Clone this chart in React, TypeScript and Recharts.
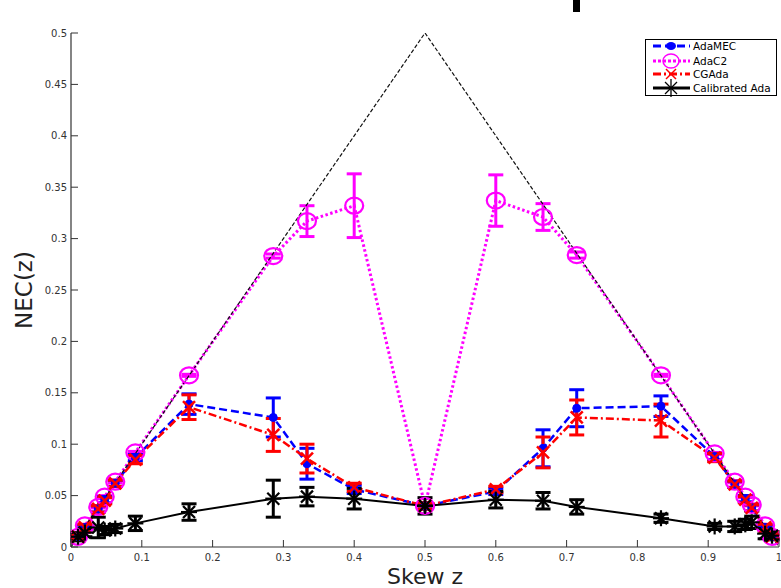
import React from 'react';
import { ComposedChart, Line, XAxis, YAxis, ErrorBar } from 'recharts';

const skew = [0.0099, 0.0196, 0.0385, 0.0476, 0.0625, 0.0909, 0.1667, 0.2857, 0.3333, 0.4, 0.5, 0.6, 0.6667, 0.7143, 0.8333, 0.9091, 0.9375, 0.9524, 0.9615, 0.9804, 0.9901];

const adaMEC = [0.010, 0.019, 0.037, 0.046, 0.062, 0.087, 0.139, 0.126, 0.081, 0.056, 0.040, 0.054, 0.096, 0.135, 0.137, 0.088, 0.061, 0.047, 0.038, 0.019, 0.010];
const adaMECErr = [0.002, 0.002, 0.003, 0.003, 0.003, 0.003, 0.010, 0.019, 0.015, 0.004, 0.003, 0.003, 0.018, 0.018, 0.010, 0.003, 0.003, 0.003, 0.003, 0.002, 0.002];

const adaC2 = [0.0099, 0.021, 0.039, 0.049, 0.0635, 0.092, 0.167, 0.283, 0.317, 0.332, 0.040, 0.337, 0.321, 0.284, 0.167, 0.091, 0.0635, 0.049, 0.041, 0.021, 0.0099];
const adaC2Err = [0.001, 0.001, 0.001, 0.001, 0.001, 0.001, 0.001, 0.002, 0.015, 0.031, 0.003, 0.025, 0.013, 0.003, 0.001, 0.001, 0.001, 0.001, 0.001, 0.001, 0.001];

const cgAda = [0.010, 0.019, 0.037, 0.045, 0.062, 0.085, 0.136, 0.109, 0.086, 0.058, 0.040, 0.056, 0.092, 0.126, 0.123, 0.087, 0.061, 0.046, 0.038, 0.019, 0.010];
const cgAdaErr = [0.002, 0.003, 0.003, 0.003, 0.003, 0.004, 0.012, 0.016, 0.014, 0.004, 0.003, 0.003, 0.015, 0.017, 0.016, 0.004, 0.003, 0.003, 0.003, 0.003, 0.002];

const calAda = [0.010, 0.014, 0.019, 0.016, 0.018, 0.023, 0.034, 0.047, 0.049, 0.047, 0.040, 0.046, 0.045, 0.039, 0.028, 0.020, 0.020, 0.022, 0.024, 0.013, 0.011];
const calAdaErr = [0.004, 0.004, 0.010, 0.004, 0.004, 0.007, 0.008, 0.018, 0.009, 0.010, 0.008, 0.008, 0.008, 0.007, 0.004, 0.003, 0.005, 0.005, 0.006, 0.005, 0.004];

const trivialX = [0, 0.5, 1];
const trivialY = [0, 0.5, 0];

const xTicks = [0, 0.1, 0.2, 0.3, 0.4, 0.5, 0.6, 0.7, 0.8, 0.9, 1];
const yTicks = [0, 0.05, 0.1, 0.15, 0.2, 0.25, 0.3, 0.35, 0.4, 0.45, 0.5];

const seriesNames = ['AdaMEC', 'AdaC2', 'CGAda', 'Calibrated Ada'];

const data = skew.map((z, i) => ({
  z,
  mec: adaMEC[i], mecErr: adaMECErr[i],
  c2: adaC2[i], c2Err: adaC2Err[i],
  cg: cgAda[i], cgErr: cgAdaErr[i],
  cal: calAda[i], calErr: calAdaErr[i],
}));
const trivialData = trivialX.map((z, i) => ({ z, t: trivialY[i] }));

const FONT = '"DejaVu Sans", Arial, sans-serif';
const AX = '#333';
const fmt = (v: number) => String(Number(v.toFixed(2)));

const BottomTick = (p: any) => (
  <g>
    <line x1={p.x} y1={p.y} x2={p.x} y2={p.y - 7} stroke={AX} strokeWidth={1} />
    <text x={p.x} y={p.y + 14} textAnchor="middle" fontSize={10} fill="#333" fontFamily={FONT}>{fmt(p.payload.value)}</text>
  </g>
);
const TopTick = (p: any) => (
  <line x1={p.x} y1={p.y} x2={p.x} y2={p.y + 7} stroke={AX} strokeWidth={1} />
);
const LeftTick = (p: any) => (
  <g>
    <line x1={p.x} y1={p.y} x2={p.x + 7} y2={p.y} stroke={AX} strokeWidth={1} />
    <text x={p.x - 4} y={p.y + 3.5} textAnchor="end" fontSize={10} fill="#333" fontFamily={FONT}>{fmt(p.payload.value)}</text>
  </g>
);
const RightTick = (p: any) => (
  <line x1={p.x} y1={p.y} x2={p.x - 7} y2={p.y} stroke={AX} strokeWidth={1} />
);

const BlueDot = (p: any) => p.cx == null ? <g key={p.index} /> : (
  <circle key={p.index} cx={p.cx} cy={p.cy} r={4} fill="#0000ff" stroke="#0000ff" strokeWidth={1} />
);
const MagentaDot = (p: any) => p.cx == null ? <g key={p.index} /> : (
  <ellipse key={p.index} cx={p.cx} cy={p.cy} rx={9} ry={8} fill="none" stroke="#ff00ff" strokeWidth={2.2} />
);
const RedX = (p: any) => p.cx == null ? <g key={p.index} /> : (
  <g key={p.index} stroke="#ff0000" strokeWidth={2.5}>
    <line x1={p.cx - 6} y1={p.cy - 6} x2={p.cx + 6} y2={p.cy + 6} />
    <line x1={p.cx - 6} y1={p.cy + 6} x2={p.cx + 6} y2={p.cy - 6} />
  </g>
);
const BlackStar = (p: any) => p.cx == null ? <g key={p.index} /> : (
  <g key={p.index} stroke="#000" strokeWidth={2.2}>
    <line x1={p.cx - 6} y1={p.cy - 6} x2={p.cx + 6} y2={p.cy + 6} />
    <line x1={p.cx - 6} y1={p.cy + 6} x2={p.cx + 6} y2={p.cy - 6} />
    <line x1={p.cx} y1={p.cy - 8} x2={p.cx} y2={p.cy + 8} />
    <line x1={p.cx - 8} y1={p.cy} x2={p.cx + 8} y2={p.cy} />
  </g>
);

const LegendBox = () => {
  const rows = [7, 22, 35, 49];
  return (
    <div style={{ position: 'absolute', left: 645, top: 39, width: 132, height: 57, border: '1px solid #000', background: '#fff', boxSizing: 'border-box' }}>
      <svg width={132} height={57} style={{ position: 'absolute', left: -1, top: -1, overflow: 'visible' }}>
        <line x1={8} y1={rows[0]} x2={45} y2={rows[0]} stroke="#0000ff" strokeWidth={3} strokeDasharray="8 4" />
        <ellipse cx={26} cy={rows[0]} rx={5} ry={4} fill="#0000ff" />
        <line x1={8} y1={rows[1]} x2={45} y2={rows[1]} stroke="#ff00ff" strokeWidth={3} strokeDasharray="3 2" />
        <ellipse cx={26} cy={rows[1]} rx={8} ry={7} fill="none" stroke="#ff00ff" strokeWidth={1.5} />
        <line x1={8} y1={rows[2]} x2={45} y2={rows[2]} stroke="#ff0000" strokeWidth={3} strokeDasharray="8 3 2 3" />
        <g stroke="#ff0000" strokeWidth={1.5}>
          <line x1={21} y1={rows[2] - 5} x2={31} y2={rows[2] + 5} />
          <line x1={21} y1={rows[2] + 5} x2={31} y2={rows[2] - 5} />
        </g>
        <line x1={8} y1={rows[3]} x2={45} y2={rows[3]} stroke="#000" strokeWidth={3} />
        <g stroke="#000" strokeWidth={1.3}>
          <line x1={20} y1={rows[3] - 6} x2={32} y2={rows[3] + 6} />
          <line x1={20} y1={rows[3] + 6} x2={32} y2={rows[3] - 6} />
          <line x1={26} y1={rows[3] - 9} x2={26} y2={rows[3] + 9} />
        </g>
        {seriesNames.map((n, i) => (
          <text key={n} x={48} y={rows[i] + 4} fontSize={10.5} fontFamily={FONT} fill="#000">{n}</text>
        ))}
      </svg>
    </div>
  );
};

export default function App() {
  return (
    <div style={{ position: 'absolute', left: 0, top: 0, width: 781, height: 588, background: '#fff' }}>
      <ComposedChart width={781} height={588} data={data} margin={{ top: 33, right: 2, left: 0, bottom: 0 }}>
        <XAxis dataKey="z" type="number" domain={[0, 1]} ticks={xTicks} interval={0} allowDataOverflow
          height={41} tickSize={0} tickMargin={0} tickLine={false} axisLine={{ stroke: AX, strokeWidth: 1.2 }} tick={BottomTick}
          label={{ value: 'Skew z', position: 'insideBottom', offset: 4, style: { fontSize: 22, fill: '#222', fontFamily: FONT } }} />
        <XAxis xAxisId="top" orientation="top" type="number" domain={[0, 1]} ticks={xTicks} interval={0} allowDataOverflow
          height={0} tickSize={0} tickMargin={0} tickLine={false} axisLine={{ stroke: AX, strokeWidth: 1.2 }} tick={TopTick}
          label={{ value: 'congress', position: 'top', offset: 12, style: { fontSize: 21, fill: '#222', fontFamily: FONT } }} />
        <YAxis type="number" domain={[0, 0.5]} ticks={yTicks} interval={0} allowDataOverflow
          width={71} tickSize={0} tickMargin={0} tickLine={false} axisLine={{ stroke: AX, strokeWidth: 1.2 }} tick={LeftTick}
          label={{ value: 'NEC(z)', angle: -90, position: 'insideLeft', offset: 24, style: { textAnchor: 'middle', fontSize: 23, fill: '#222', fontFamily: FONT } }} />
        <YAxis yAxisId="right" orientation="right" type="number" domain={[0, 0.5]} ticks={yTicks} interval={0} allowDataOverflow
          width={0} tickSize={0} tickMargin={0} tickLine={false} axisLine={{ stroke: AX, strokeWidth: 1.2 }} tick={RightTick} />

        <Line dataKey="c2" type="linear" stroke="#ff00ff" strokeWidth={3} strokeDasharray="2.5 2.5" dot={MagentaDot} activeDot={false} isAnimationActive={false}>
          <ErrorBar dataKey="c2Err" direction="y" width={7.5} stroke="#ff00ff" strokeWidth={3} />
        </Line>
        <Line dataKey="mec" type="linear" stroke="#0000ff" strokeWidth={2.5} strokeDasharray="8 4" dot={BlueDot} activeDot={false} isAnimationActive={false}>
          <ErrorBar dataKey="mecErr" direction="y" width={7.5} stroke="#0000ff" strokeWidth={3} />
        </Line>
        <Line dataKey="cg" type="linear" stroke="#ff0000" strokeWidth={2.5} strokeDasharray="8 3 2 3" dot={RedX} activeDot={false} isAnimationActive={false}>
          <ErrorBar dataKey="cgErr" direction="y" width={7.5} stroke="#ff0000" strokeWidth={3} />
        </Line>
        <Line data={trivialData} dataKey="t" type="linear" stroke="#111" strokeWidth={1.2} strokeDasharray="4 2" dot={false} activeDot={false} isAnimationActive={false} />
        <Line dataKey="cal" type="linear" stroke="#000" strokeWidth={2} dot={BlackStar} activeDot={false} isAnimationActive={false}>
          <ErrorBar dataKey="calErr" direction="y" width={7.5} stroke="#000" strokeWidth={3} />
        </Line>
      </ComposedChart>
      <LegendBox />
      <div style={{ position: 'absolute', left: 573, top: 0, width: 7, height: 12, background: '#000' }} />
    </div>
  );
}
